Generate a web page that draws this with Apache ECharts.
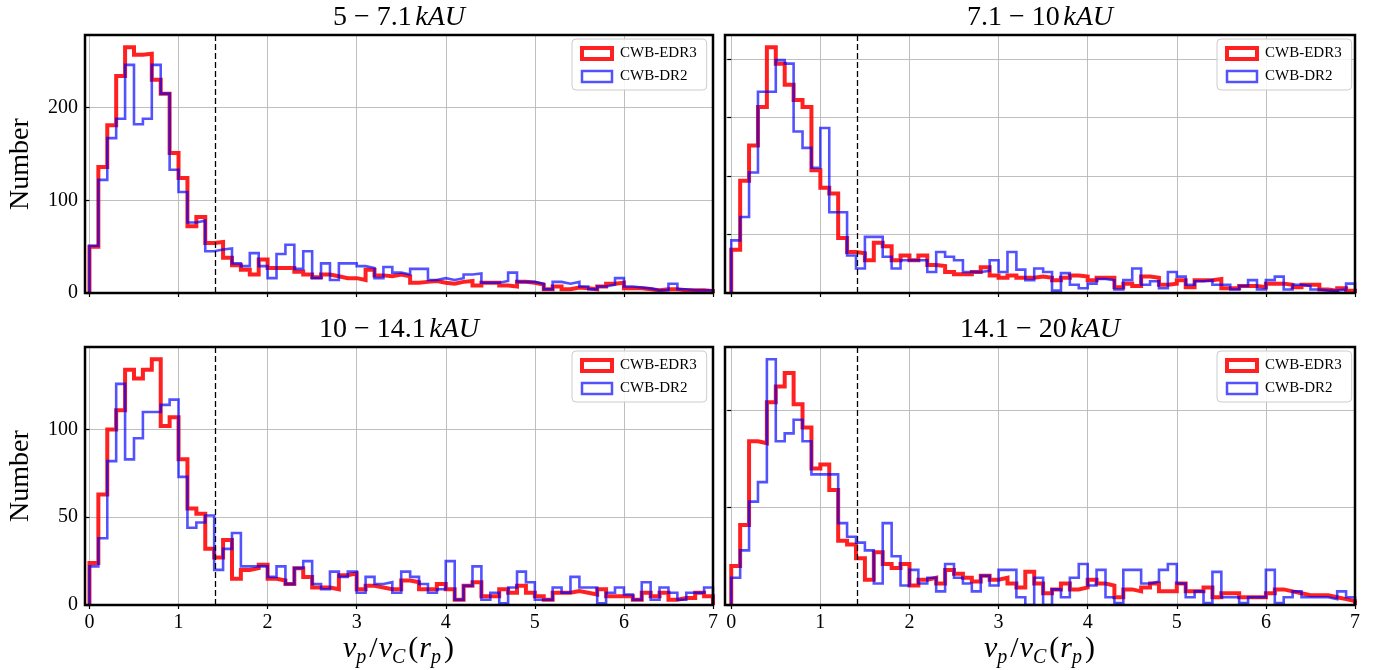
<!DOCTYPE html>
<html>
<head>
<meta charset="utf-8">
<script src="https://cdn.jsdelivr.net/npm/echarts@6/dist/echarts.min.js"></script>
<style>
  html, body { margin: 0; padding: 0; background: #ffffff; }
  #chart { width: 1374px; height: 670px; }
</style>
</head>
<body>
<div id="chart"></div>
<script>
// Histogram bins: 70 bins of width 0.1 from 0 to 7 in v_p / v_C(r_p)
const binWidth = 0.1;
const xTicks = [0, 1, 2, 3, 4, 5, 6, 7];
const escapeRatio = Math.SQRT2;   // dashed reference line

// Separation ranges (kAU)
const rangeLabels = ['5 − 7.1', '7.1 − 10', '10 − 14.1', '14.1 − 20'];
const seriesNames = ['CWB-EDR3', 'CWB-DR2'];

// Counts per bin, 5 - 7.1 kAU
const edr3_5_7 = [50, 136, 181, 234, 265, 257, 258, 230, 215, 151, 124, 72, 82, 54, 55, 38,
  30, 25, 20, 36, 27, 27, 27, 23, 20, 17, 20, 18, 16, 16, 14, 25, 19, 18, 20, 18, 11, 12, 13, 11,
  10, 12, 13, 8, 11, 11, 8, 7, 12, 11, 9, 4, 7, 4, 6, 5, 4, 7, 10, 11, 5, 5, 4, 3, 4, 4, 3, 3, 3, 2];
const dr2_5_7 = [51, 122, 167, 188, 246, 182, 188, 246, 215, 133, 109, 76, 78, 45, 47, 48,
  32, 29, 43, 29, 16, 42, 52, 26, 45, 16, 32, 14, 32, 32, 29, 27, 16, 28, 22, 20, 26, 26, 14, 16,
  14, 16, 20, 21, 11, 11, 13, 22, 12, 12, 10, 4, 12, 10, 12, 7, 4, 7, 9, 16, 7, 6, 5, 3, 3, 10, 4, 3, 3, 3];

// Counts per bin, 7.1 - 10 kAU
const edr3_7_10 = [37, 96, 126, 159, 210, 196, 178, 165, 159, 105, 90, 85, 47, 35, 34, 28,
  43, 40, 28, 32, 28, 32, 24, 23, 18, 16, 16, 18, 22, 15, 13, 15, 13, 13, 14, 13, 11, 13, 15, 14,
  11, 13, 13, 5, 8, 6, 14, 13, 7, 8, 11, 5, 11, 11, 12, 4, 4, 6, 6, 5, 8, 8, 7, 5, 7, 7, 3, 2, 4, 2];
const dr2_7_10 = [45, 65, 103, 172, 172, 199, 196, 138, 124, 107, 141, 69, 69, 32, 21, 48,
  48, 31, 21, 28, 28, 28, 18, 35, 31, 28, 18, 18, 19, 28, 18, 35, 20, 11, 21, 18, 2, 17, 7, 4,
  8, 12, 11, 3, 11, 21, 7, 10, 4, 18, 14, 7, 10, 11, 7, 7, 3, 6, 11, 3, 11, 14, 3, 7, 6, 3, 2, 2, 3, 8];

// Counts per bin, 10 - 14.1 kAU
const edr3_10_14 = [24, 63, 100, 111, 134, 129, 134, 140, 102, 107, 83, 55, 52, 32, 27, 37,
  15, 20, 21, 23, 15, 14, 12, 21, 16, 10, 10, 9, 17, 18, 9, 11, 10, 9, 9, 14, 13, 9, 9, 12,
  9, 3, 11, 13, 5, 5, 9, 7, 11, 7, 5, 3, 7, 7, 8, 7, 6, 9, 5, 5, 5, 3, 7, 5, 7, 3, 4, 4, 7, 5];
const dr2_10_14 = [22, 38, 82, 126, 83, 95, 110, 110, 114, 117, 73, 44, 47, 51, 20, 32,
  41, 22, 22, 22, 16, 22, 12, 21, 25, 12, 9, 19, 16, 19, 7, 16, 12, 13, 7, 19, 16, 12, 7, 9,
  25, 3, 11, 22, 3, 7, 1, 10, 19, 13, 3, 3, 10, 7, 16, 10, 10, 1, 7, 10, 6, 3, 13, 3, 10, 7, 3, 7, 7, 10];

// Counts per bin, 14.1 - 20 kAU
const edr3_14_20 = [20, 41, 84, 83, 104, 112, 119, 103, 91, 70, 72, 59, 33, 31, 24, 13,
  27, 21, 19, 21, 10, 13, 14, 11, 18, 16, 14, 12, 15, 13, 14, 11, 9, 17, 11, 6, 8, 11, 8, 9,
  13, 11, 10, 4, 8, 7, 9, 11, 7, 7, 11, 7, 7, 9, 4, 6, 6, 4, 4, 4, 6, 8, 7, 6, 5, 5, 5, 4, 3, 2];
const dr2_14_20 = [14, 28, 53, 63, 126, 84, 88, 95, 84, 67, 67, 67, 42, 35, 32, 28,
  11, 42, 25, 10, 18, 11, 14, 7, 21, 14, 11, 7, 15, 10, 18, 18, 4, 0, 14, 0, 8, 4, 14, 21,
  10, 18, 4, 1, 18, 18, 11, 12, 18, 21, 11, 4, 7, 1, 17, 4, 4, 1, 4, 4, 18, 1, 4, 7, 4, 4, 4, 3, 7, 4];

// y tick values per panel
const yTicks_5_7 = [0, 100, 200];
const yTicks_7_10 = [0, 50, 100, 150, 200];
const yTicks_10_14 = [0, 50, 100];
const yTicks_14_20 = [0, 50, 100];

const panelData = [
  { red: edr3_5_7, blue: dr2_5_7, ticks: yTicks_5_7 },
  { red: edr3_7_10, blue: dr2_7_10, ticks: yTicks_7_10 },
  { red: edr3_10_14, blue: dr2_10_14, ticks: yTicks_10_14 },
  { red: edr3_14_20, blue: dr2_14_20, ticks: yTicks_14_20 }
];

// Layout of the 2x2 panels
const grids = [
  { left: 85, top: 35, width: 628, height: 258 },
  { left: 725, top: 35, width: 630, height: 258 },
  { left: 85, top: 347, width: 628, height: 258 },
  { left: 725, top: 347, width: 630, height: 258 }
];
const xMins = [-0.05, -0.07, -0.05, -0.07];
const legendPos = [[572, 39], [1217, 39], [572, 351], [1217, 351]];

const SERIF = '"Liberation Serif", "DejaVu Serif", serif';
const RED = 'rgba(255,0,0,0.87)';
const BLUE = 'rgba(0,0,255,0.68)';

// Outline of a step histogram: up from the baseline, across each bin, back down at the end
function stepOutline(counts) {
  const pts = [[0, 0]];
  counts.forEach((c, i) => pts.push([+(i * binWidth).toFixed(2), c]));
  const end = +(counts.length * binWidth).toFixed(2);
  pts.push([end, counts[counts.length - 1]]);
  pts.push([end, 0]);
  return pts;
}

const isLeft = i => i % 2 === 0;
const isBottom = i => i >= 2;

const option = {
  animation: false,
  backgroundColor: '#ffffff',
  grid: grids.map(g => Object.assign({
    show: true, z: 6, backgroundColor: 'rgba(0,0,0,0)',
    borderColor: '#000000', borderWidth: 2.5,
    containLabel: false, outerBoundsMode: 'none'
  }, g)),
  title: rangeLabels.map((r, i) => ({
    text: '{n|' + r + '}{s| }{k|kAU}',
    left: grids[i].left + grids[i].width / 2,
    top: grids[i].top - 31,
    textAlign: 'center',
    padding: 0,
    textStyle: {
      fontWeight: 'normal',
      rich: {
        n: { fontFamily: SERIF, fontSize: 28, fontWeight: 'normal', color: '#000' },
        s: { fontFamily: SERIF, fontSize: 14, fontWeight: 'normal' },
        k: { fontFamily: SERIF, fontSize: 28, fontWeight: 'normal', fontStyle: 'italic', color: '#000' }
      }
    }
  })),
  legend: panelData.map((p, i) => ({
    left: legendPos[i][0], top: legendPos[i][1],
    orient: 'vertical',
    itemWidth: 30, itemHeight: 11, itemGap: 8,
    padding: [7, 10, 6, 8],
    backgroundColor: 'rgba(255,255,255,0.85)',
    borderColor: '#cccccc', borderWidth: 1, borderRadius: 4,
    selectedMode: false,
    z: 8,
    textStyle: { fontFamily: SERIF, fontSize: 15, color: '#000', padding: [0, 0, 0, 3] },
    data: [
      { name: seriesNames[0], icon: 'rect', itemStyle: { color: 'rgba(0,0,0,0)', borderColor: RED, borderWidth: 4 } },
      { name: seriesNames[1], icon: 'rect', itemStyle: { color: 'rgba(0,0,0,0)', borderColor: BLUE, borderWidth: 2.5 } }
    ]
  })),
  xAxis: panelData.map((p, i) => ({
    gridIndex: i,
    type: 'value',
    min: xMins[i], max: 7,
    minInterval: 1, maxInterval: 1,
    axisLine: { show: false },
    axisTick: { show: true, customValues: xTicks, length: 4, lineStyle: { color: '#000', width: 1.2 } },
    axisLabel: {
      show: isBottom(i), customValues: xTicks, margin: 8,
      fontFamily: SERIF, fontSize: 20, color: '#000'
    },
    splitLine: { show: true, lineStyle: { color: '#b8b8b8', width: 0.9 } },
    name: isBottom(i) ? '{i|v}{s|p}{u|/}{i|v}{s|C}{u|(}{i|r}{s|p}{u|)}' : '',
    nameLocation: 'middle',
    nameGap: 29,
    nameTextStyle: {
      rich: {
        i: { fontFamily: SERIF, fontSize: 30, fontStyle: 'italic', color: '#000', lineHeight: 34, verticalAlign: 'top' },
        u: { fontFamily: SERIF, fontSize: 30, color: '#000', lineHeight: 34, verticalAlign: 'top', padding: [0, 1, 0, 1] },
        s: { fontFamily: SERIF, fontSize: 20, fontStyle: 'italic', color: '#000', lineHeight: 20, verticalAlign: 'bottom', padding: [0, 2, 0, 0] }
      }
    }
  })),
  yAxis: panelData.map((p, i) => ({
    gridIndex: i,
    type: 'value',
    min: 0,
    max: Math.max(...p.red, ...p.blue) * 1.05,
    interval: p.ticks[1] - p.ticks[0],
    axisLine: { show: false },
    axisTick: { show: true, customValues: p.ticks, length: 4, lineStyle: { color: '#000', width: 1.2 } },
    axisLabel: {
      show: isLeft(i), customValues: p.ticks, margin: 7,
      fontFamily: SERIF, fontSize: 20, color: '#000'
    },
    splitLine: { show: true, lineStyle: { color: '#b8b8b8', width: 0.9 } },
    name: isLeft(i) ? 'Number' : '',
    nameLocation: 'middle',
    nameRotate: 90,
    nameGap: 50,
    nameTextStyle: { fontFamily: SERIF, fontSize: 28, color: '#000' }
  })),
  series: []
};

panelData.forEach((p, i) => {
  option.series.push({
    name: seriesNames[0], type: 'line', xAxisIndex: i, yAxisIndex: i,
    data: stepOutline(p.red), step: 'end', symbol: 'none', silent: true,
    itemStyle: { color: RED },
    lineStyle: { color: RED, width: 4, join: 'miter', cap: 'butt' },
    z: 3,
    markLine: {
      silent: true, symbol: ['none', 'none'], label: { show: false },
      lineStyle: { type: [6, 3], color: '#000', width: 1.3 },
      data: [{ xAxis: escapeRatio }]
    }
  });
  option.series.push({
    name: seriesNames[1], type: 'line', xAxisIndex: i, yAxisIndex: i,
    data: stepOutline(p.blue), step: 'end', symbol: 'none', silent: true,
    itemStyle: { color: BLUE },
    lineStyle: { color: BLUE, width: 2.6, join: 'miter', cap: 'butt' },
    z: 4
  });
});

const chart = echarts.init(document.getElementById('chart'), null, { renderer: 'canvas' });
chart.setOption(option);
</script>
</body>
</html>
